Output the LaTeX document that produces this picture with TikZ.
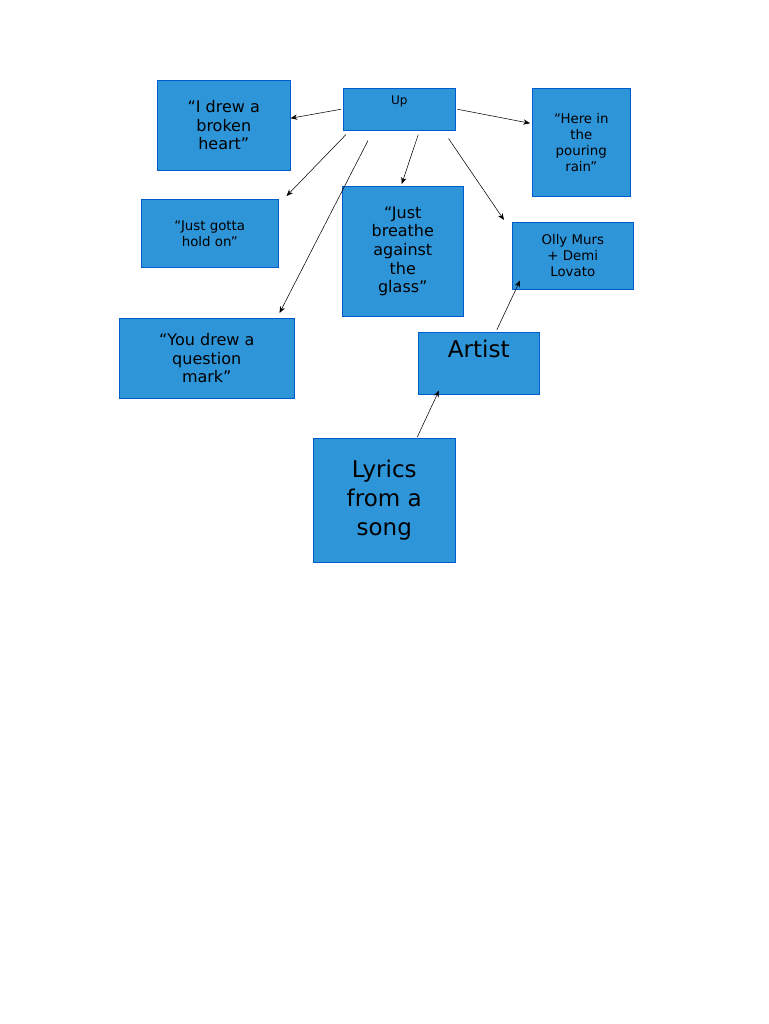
\documentclass[tikz,border=0pt]{standalone}
\usepackage{fontspec}
\setmainfont{DejaVu Sans}
\usetikzlibrary{arrows.meta,calc}
\tikzset{
    box/.style = {
        draw=blue!55!cyan!80!black,
        fill=cyan!70!blue!85,
        anchor=north west,
        align=center,
        inner sep=1pt,
        },
    link/.style = {
        -{Stealth[length=5pt,width=4pt]},
        thin,
        },
}
\begin{document}
\begin{tikzpicture}[x=0.75pt,y=-0.75pt]
            \useasboundingbox (0,0) rectangle (768,1024);
            \node[box, minimum width=112*0.75pt, minimum height=42*0.75pt] (up) at (343,88) {};
            \node[anchor=north, font=\small, inner sep=0pt] (uptext) at ($(up.north)+(0,7)$) {Up};
            \node[box, minimum width=133*0.75pt, minimum height=90*0.75pt, font=\large] (heart) at (157,80) {“I drew a\\broken\\heart”};
            \node[box, minimum width=98*0.75pt, minimum height=108*0.75pt, font=\normalsize] (rain) at (532,88) {“Here in\\the\\pouring\\rain”};
            \node[box, minimum width=137*0.75pt, minimum height=68*0.75pt, font=\normalsize] (hold) at (141,199) {“Just gotta\\hold on”};
            \node[box, minimum width=121*0.75pt, minimum height=130*0.75pt, font=\large] (glass) at (342,186) {“Just\\breathe\\against\\the\\glass”};
            \node[box, minimum width=121*0.75pt, minimum height=67*0.75pt, font=\normalsize] (olly) at (512,222) {Olly Murs\\+ Demi\\Lovato};
            \node[box, minimum width=175*0.75pt, minimum height=80*0.75pt, font=\large] (qmark) at (119,318) {“You drew a\\question\\mark”};
            \node[box, minimum width=121*0.75pt, minimum height=62*0.75pt] (artist) at (418,332) {};
            \node[anchor=north, font=\LARGE, inner sep=0pt] (artisttext) at ($(artist.north)+(0,8)$) {Artist};
            \node[box, minimum width=142*0.75pt, minimum height=124*0.75pt, font=\LARGE] (lyrics) at (313,438) {Lyrics\\from a\\song};

            \draw[link] ($(up.west)+(-2,0)$) -- ($(heart.east)+(0,-7)$);
            \draw[link] ($(up.east)+(2,0)$) -- ($(rain.west)+(-2,-19)$);
            \draw[link] ($(up.south west)+(3,4)$) -- ($(hold.north east)+(8,-3)$);
            \draw[link] ($(up.south west)+(25,10)$) -- ($(qmark.north east)+(-15,-5)$);
            \draw[link] ($(up.south)+(19,4)$) -- ($(glass.north)+(-1,-2)$);
            \draw[link] ($(up.south east)+(-7,8)$) -- ($(olly.north west)+(-8,-2)$);
            \draw[link] ($(artist.north)+(18,-2)$) -- ($(olly.south west)+(8,-9)$);
            \draw[link] ($(lyrics.north)+(33,-1)$) -- ($(artist.south west)+(21,-4)$);
        \end{tikzpicture}
\end{document}
